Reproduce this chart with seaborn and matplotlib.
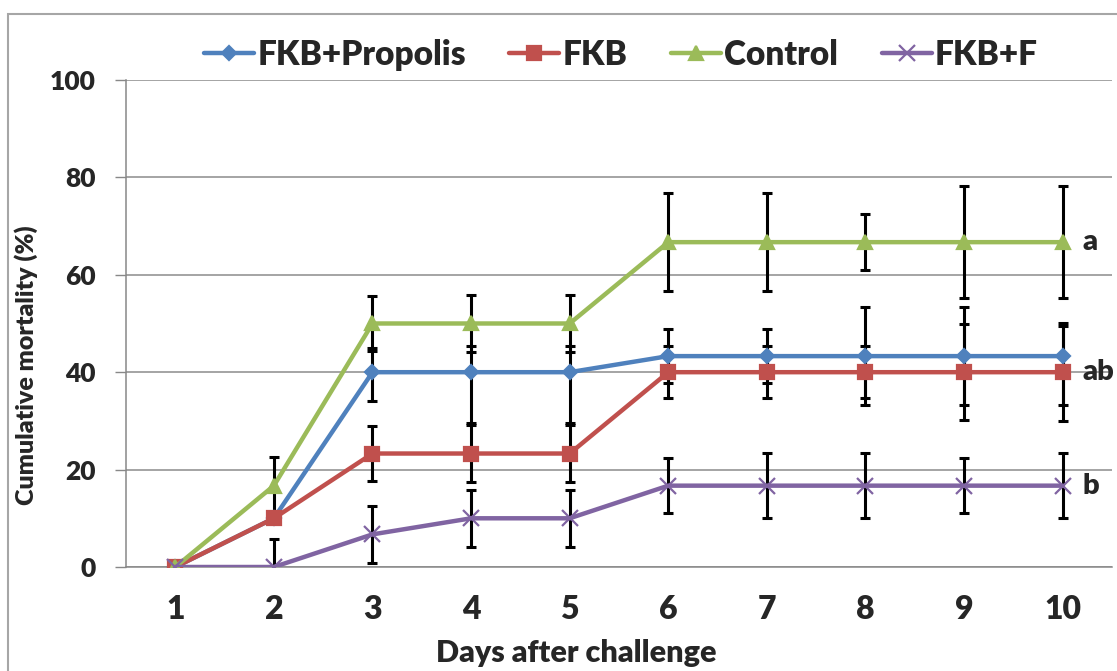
import matplotlib
matplotlib.use("Agg")
import pandas as pd
import matplotlib.pyplot as plt
import seaborn as sns
from matplotlib.patches import Rectangle

# cumulative mortality (%) per day after challenge
days = [1, 2, 3, 4, 5, 6, 7, 8, 9, 10]
groups = ["FKB+Propolis", "FKB", "Control", "FKB+F"]

propolis = [0, 10, 40, 40, 40, 43.3, 43.3, 43.3, 43.3, 43.3]
propolis_err_lo = [0, 0, 6, 10.5, 10.5, 5.6, 5.6, 10, 10, 10]
propolis_err_hi = [0, 0, 5, 5.4, 5.4, 5.6, 5.6, 10, 10, 6.2]

fkb = [0, 10, 23.3, 23.3, 23.3, 40, 40, 40, 40, 40]
fkb_err = [0, 0, 5.7, 5.8, 5.8, 5.4, 5.4, 5.4, 9.8, 10]

control = [0, 16.7, 50, 50, 50, 66.7, 66.7, 66.7, 66.7, 66.7]
control_err = [0, 5.8, 5.6, 5.9, 5.9, 10, 10, 5.8, 11.5, 11.5]

fkbf = [0, 0, 6.7, 10, 10, 16.7, 16.7, 16.7, 16.7, 16.7]
fkbf_err = [0, 5.8, 5.8, 5.8, 5.8, 5.7, 6.7, 6.7, 5.7, 6.7]

sig_letters = ["a", "ab", "b"]
sig_y = [66.7, 40, 16.7]

series = {
    "FKB+Propolis": (propolis, propolis_err_lo, propolis_err_hi),
    "FKB": (fkb, fkb_err, fkb_err),
    "Control": (control, control_err, control_err),
    "FKB+F": (fkbf, fkbf_err, fkbf_err),
}
colors = {"FKB+Propolis": "#4F81BD", "FKB": "#C0504D",
          "Control": "#9BBB59", "FKB+F": "#8064A2"}
markers = {"FKB+Propolis": "D", "FKB": "s", "Control": "^", "FKB+F": "x"}
msizes = {"FKB+Propolis": 7, "FKB": 10, "Control": 10, "FKB+F": 11}

W = "heavy"

sns.set_style("white")
plt.rcParams["font.family"] = ["Lato", "DejaVu Sans"]
plt.rcParams["font.weight"] = W

fig = plt.figure(figsize=(11.17, 6.71), dpi=100)
ax = fig.add_axes([0.1128, 0.155, 0.8827, 0.7258])

for g in groups:
    vals, lo, hi = series[g]
    df = pd.DataFrame({"day": days, "mort": vals})
    sns.lineplot(data=df, x="day", y="mort", ax=ax, color=colors[g],
                 marker=markers[g], markersize=msizes[g], linewidth=3.2,
                 markeredgecolor=colors[g], markeredgewidth=1.6,
                 label=g, zorder=3)
    keep = [i for i in range(len(days)) if lo[i] > 0 or hi[i] > 0]
    ax.errorbar([days[i] for i in keep], [vals[i] for i in keep],
                yerr=[[lo[i] for i in keep], [hi[i] for i in keep]],
                fmt="none", ecolor="black", elinewidth=2.2, capsize=3.5,
                capthick=2.2, zorder=2)

for txt, yv in zip(sig_letters, sig_y):
    ax.text(10.2, yv, txt, fontsize=21, fontweight=W,
            ha="left", va="center", zorder=5)

ax.set_xlim(0.5, 10.5)
ax.set_ylim(0, 100)
ax.set_yticks([0, 20, 40, 60, 80, 100])
ax.set_xticks(days)
ax.set_xticks([d - 0.5 for d in days] + [10.5], minor=True)
ax.tick_params(axis="x", which="major", length=0, pad=20, labelsize=23)
ax.tick_params(axis="x", which="minor", length=8, width=1, color="#888888",
               direction="out")
ax.tick_params(axis="y", length=8, width=1, color="#888888", pad=14,
               labelsize=19, left=True)
for lab in ax.get_xticklabels() + ax.get_yticklabels():
    lab.set_fontweight(W)

ax.yaxis.grid(True, color="#8c8c8c", linewidth=1.1)
ax.set_axisbelow(True)
for side in ["top", "right"]:
    ax.spines[side].set_visible(False)
for side in ["left", "bottom"]:
    ax.spines[side].set_color("#888888")
    ax.spines[side].set_linewidth(1.1)

ax.set_xlabel("Days after challenge", fontsize=22, fontweight=W)
ax.set_ylabel("Cumulative mortality (%)", fontsize=18, fontweight=W)
ax.xaxis.set_label_coords(0.457, -0.148)
ax.yaxis.set_label_coords(-0.089, 0.415)

handles, labels = ax.get_legend_handles_labels()
ax.get_legend().remove()
fig.legend(handles, labels, loc="center", bbox_to_anchor=(0.556, 0.918),
           ncol=4, frameon=False, handlelength=1.5, handletextpad=0.1,
           columnspacing=1.3, prop={"weight": W, "size": 24})

fig.patches.append(Rectangle((0.0072, -0.1), 1.2, 0.979 + 0.1,
                             transform=fig.transFigure, fill=False,
                             edgecolor="#a6a6a6", linewidth=1.5))

fig.savefig("out.png", dpi=100)
